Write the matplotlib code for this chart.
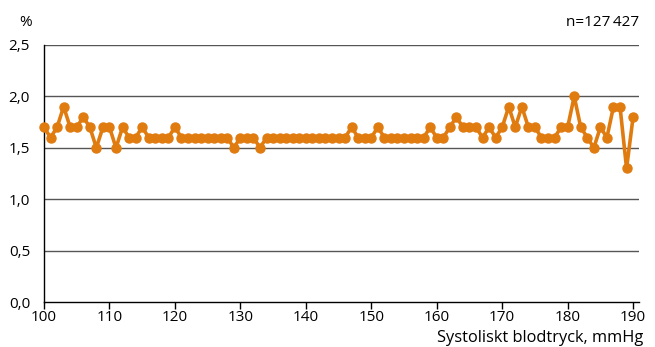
import matplotlib
matplotlib.use("Agg")
import matplotlib.pyplot as plt
from matplotlib.ticker import FuncFormatter

bp = list(range(100, 191))
pct = [1.7, 1.6, 1.7, 1.9, 1.7, 1.7, 1.8, 1.7, 1.5, 1.7,
       1.7, 1.5, 1.7, 1.6, 1.6, 1.7, 1.6, 1.6, 1.6, 1.6,
       1.7, 1.6, 1.6, 1.6, 1.6, 1.6, 1.6, 1.6, 1.6, 1.5,
       1.6, 1.6, 1.6, 1.5, 1.6, 1.6, 1.6, 1.6, 1.6, 1.6,
       1.6, 1.6, 1.6, 1.6, 1.6, 1.6, 1.6, 1.7, 1.6, 1.6,
       1.6, 1.7, 1.6, 1.6, 1.6, 1.6, 1.6, 1.6, 1.6, 1.7,
       1.6, 1.6, 1.7, 1.8, 1.7, 1.7, 1.7, 1.6, 1.7, 1.6,
       1.7, 1.9, 1.7, 1.9, 1.7, 1.7, 1.6, 1.6, 1.6, 1.7,
       1.7, 2.0, 1.7, 1.6, 1.5, 1.7, 1.6, 1.9, 1.9, 1.3,
       1.8]
yticks = [0, 0.5, 1.0, 1.5, 2.0, 2.5]
xticks = [100, 110, 120, 130, 140, 150, 160, 170, 180, 190]

plt.rcParams['font.family'] = ['Open Sans', 'DejaVu Sans']
fig = plt.figure(figsize=(6.55, 3.47), dpi=100)
ax = fig.add_axes([44/655, 45/347, 595/655, 257/347])

ax.plot(bp, pct, color='#E07B10', lw=2.6, marker='o', ms=6.5, zorder=3, clip_on=False)

ax.set_xlim(100, 190.9)
ax.set_ylim(0, 2.5)
ax.set_yticks(yticks)
ax.set_xticks(xticks)
ax.yaxis.set_major_formatter(FuncFormatter(lambda v, p: f"{v:.1f}".replace('.', ',')))
for y in yticks[1:]:
    ax.axhline(y, color='#555555', lw=1.0, zorder=1)
for s in ['top', 'right']:
    ax.spines[s].set_visible(False)
ax.spines['left'].set_color('black')
ax.spines['bottom'].set_color('black')
ax.spines['left'].set_linewidth(1.0)
ax.spines['bottom'].set_linewidth(1.0)
ax.tick_params(axis='y', length=0, pad=10, labelsize=11)
ax.tick_params(axis='x', length=5, width=1, direction='out', labelsize=11, pad=1)

fig.text(26/655, 1 - 22/347, '%', ha='center', va='center', fontsize=11)
fig.text(639/655, 1 - 22/347, 'n=127\u2009427', ha='right', va='center', fontsize=11)
fig.text(643/655, 1 - 338/347, 'Systoliskt blodtryck, mmHg', ha='right', va='center', fontsize=11.8)

fig.savefig('out.png', dpi=100)
